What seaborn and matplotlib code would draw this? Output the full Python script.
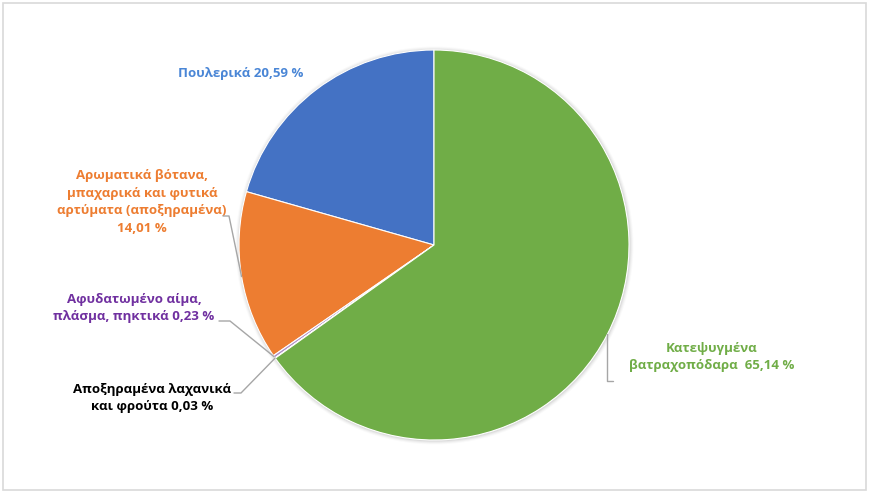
import numpy as np
import matplotlib
matplotlib.use("Agg")
import matplotlib.pyplot as plt
import seaborn as sns
from matplotlib.patches import Circle, Rectangle

# ==============================================================================
# DATA
# ==============================================================================
labels = [
    "Πουλερικά 20,59 %",
    "Αρωματικά βότανα,\nμπαχαρικά και φυτικά\nαρτύματα (αποξηραμένα)\n14,01 %",
    "Αφυδατωμένο αίμα,\nπλάσμα, πηκτικά 0,23 %",
    "Αποξηραμένα λαχανικά\nκαι φρούτα 0,03 %",
    "Κατεψυγμένα\nβατραχοπόδαρα  65,14 %",
]
shares = [20.59, 14.01, 0.23, 0.03, 65.14]
slice_colors = ["#4472C4", "#ED7D31", "#B08FC7", "#D9D9D9", "#70AD47"]
text_colors = ["#4A86D6", "#ED7D31", "#7030A0", "#000000", "#70AD47"]

# ==============================================================================
# STYLE
# ==============================================================================
sns.set_theme(style="white")
plt.rcParams["font.family"] = ["Open Sans", "DejaVu Sans"]

W, H = 869, 492
fig = plt.figure(figsize=(W / 100, H / 100), dpi=100, facecolor="white")
ax = fig.add_axes([0, 0, 1, 1])

cx, cy, R = 434, H - 245, 195

# soft shadow
for i, a in enumerate([0.05, 0.04, 0.03, 0.02]):
    ax.add_patch(Circle((cx + 0.5, cy - 0.5), R + 1 + i, color="#000000",
                        alpha=a, lw=0, zorder=0))

wedges, _ = ax.pie(shares, colors=slice_colors, startangle=90, counterclock=True,
                   center=(cx, cy), radius=R, frame=True,
                   wedgeprops=dict(edgecolor="white", linewidth=0.8))
ax.set_xlim(0, W)
ax.set_ylim(0, H)
ax.set_aspect("equal")
ax.axis("off")


def edge_point(w):
    ang = np.deg2rad((w.theta1 + w.theta2) / 2)
    return cx + R * np.cos(ang), cy + R * np.sin(ang)


# label positions (center of text block, pixel coords from top)
label_pos = [(241, 73), (142, 202), (134, 308), (152, 398), (712, 357)]
fs = 9.5
for lab, (lx, ly), tc in zip(labels, label_pos, text_colors):
    ax.text(lx, H - ly, lab, ha="center", va="center", fontsize=fs,
            fontweight="bold", color=tc, linespacing=1.45)

lc = "#A6A6A6"
# orange leader
ex, ey = edge_point(wedges[1])
ax.plot([223, 229, ex], [H - 216, H - 216, ey], color=lc, lw=1, zorder=3)
# purple leader
ex, ey = edge_point(wedges[2])
ax.plot([219, 230, ex], [H - 321, H - 321, ey], color=lc, lw=1, zorder=3)
# black leader
ex, ey = edge_point(wedges[3])
ax.plot([234, 241, ex], [H - 393, H - 393, ey], color=lc, lw=1, zorder=3)
# green leader
ex, ey = edge_point(wedges[4])
ax.plot([ex, ex, ex + 6], [ey, H - 381, H - 381], color=lc, lw=1, zorder=3)

# outer border
fig.patches.append(Rectangle((0.003, 0.004), 0.994, 0.99, transform=fig.transFigure,
                             fill=False, edgecolor="#D9D9D9", lw=1.2))

fig.savefig("out.png", dpi=100, facecolor="white")
